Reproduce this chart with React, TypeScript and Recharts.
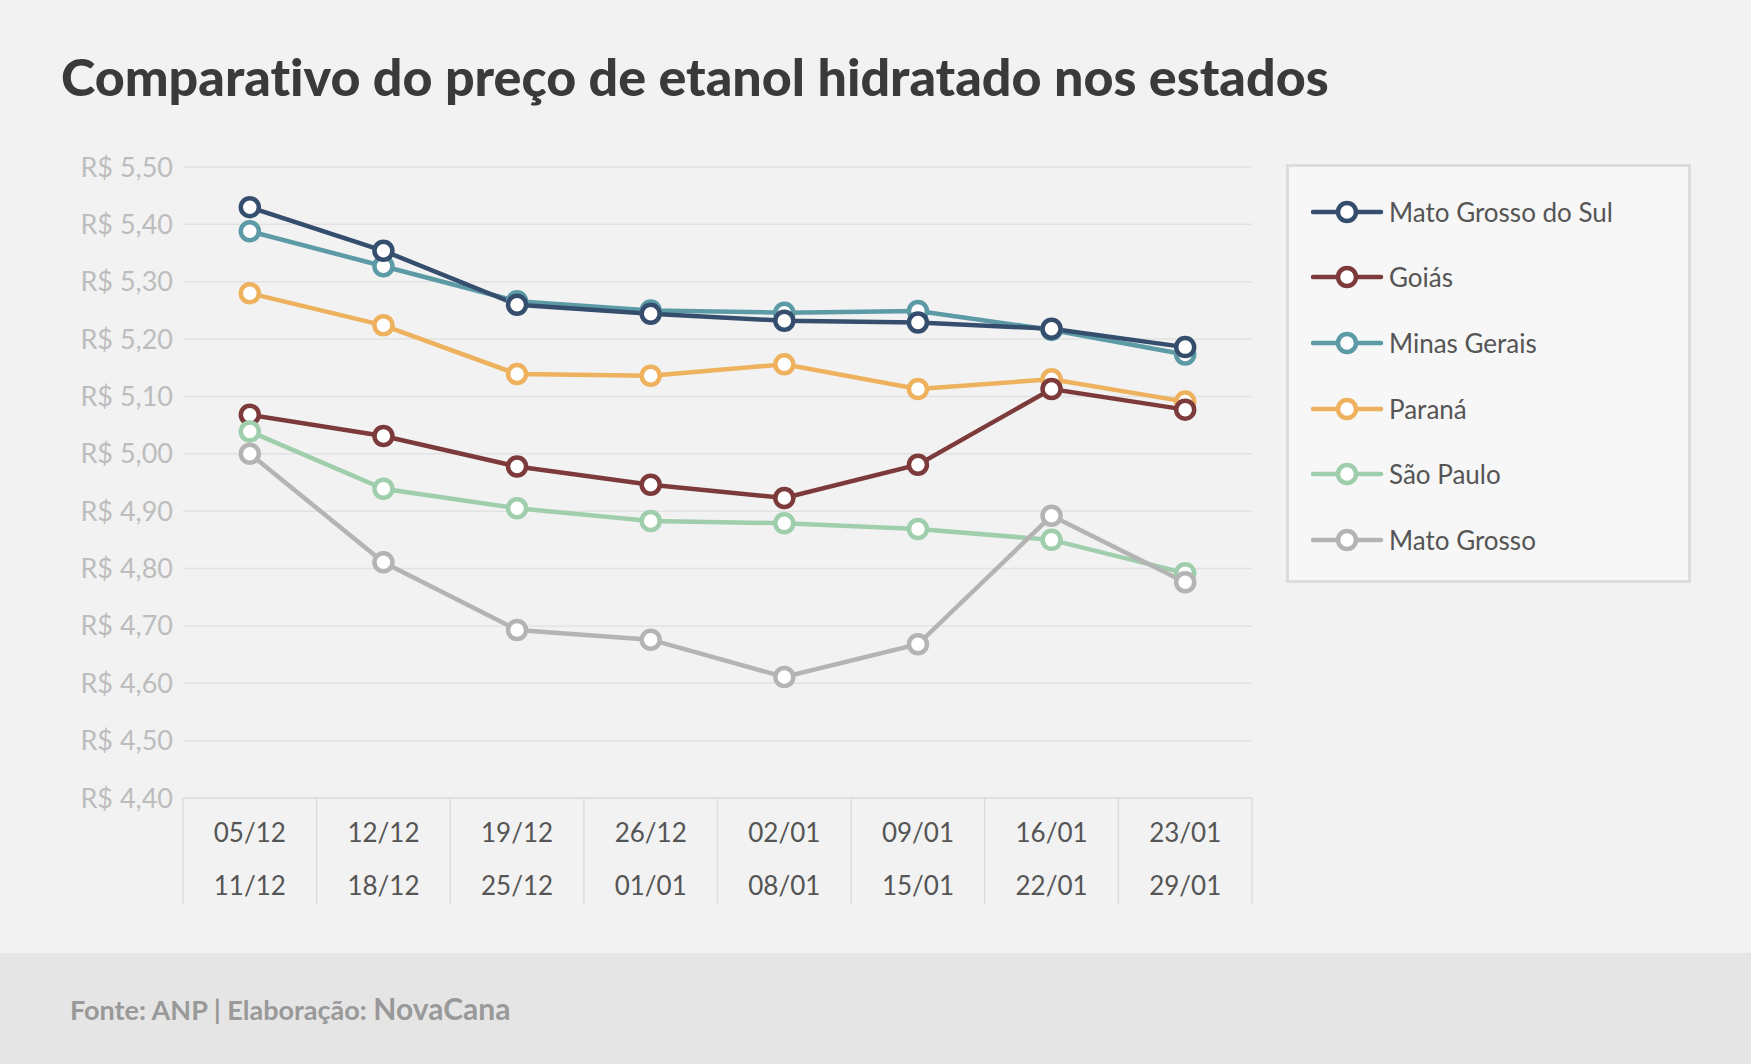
import { CartesianGrid, Legend, Line, LineChart, XAxis, YAxis } from "recharts";

// semanas (duas linhas por rótulo)
const weekStart = ["05/12", "12/12", "19/12", "26/12", "02/01", "09/01", "16/01", "23/01"];
const weekEnd = ["11/12", "18/12", "25/12", "01/01", "08/01", "15/01", "22/01", "29/01"];

const matoGrossoDoSul = [5.43, 5.354, 5.26, 5.244, 5.232, 5.229, 5.218, 5.186];
const goias = [5.068, 5.031, 4.978, 4.946, 4.923, 4.981, 5.113, 5.077];
const minasGerais = [5.388, 5.327, 5.266, 5.25, 5.246, 5.249, 5.216, 5.173];
const parana = [5.28, 5.224, 5.139, 5.136, 5.156, 5.113, 5.13, 5.091];
const saoPaulo = [5.039, 4.939, 4.905, 4.883, 4.879, 4.869, 4.85, 4.792];
const matoGrosso = [5.0, 4.811, 4.693, 4.676, 4.611, 4.668, 4.892, 4.776];

const yTicks = [4.4, 4.5, 4.6, 4.7, 4.8, 4.9, 5.0, 5.1, 5.2, 5.3, 5.4, 5.5];

const series = [
    { key: "Mato Grosso do Sul", values: matoGrossoDoSul, color: "#354e6d" },
    { key: "Goiás", values: goias, color: "#7d3a3a" },
    { key: "Minas Gerais", values: minasGerais, color: "#5c9aa6" },
    { key: "Paraná", values: parana, color: "#eeb15d" },
    { key: "São Paulo", values: saoPaulo, color: "#9fceac" },
    { key: "Mato Grosso", values: matoGrosso, color: "#b4b4b4" },
];

// ordem de desenho (quem fica por cima por último)
const drawOrder = ["Minas Gerais", "Mato Grosso do Sul", "Paraná", "Goiás", "São Paulo", "Mato Grosso"];

const data = weekStart.map((w, i) => {
    const row: Record<string, string | number> = { week: w, end: weekEnd[i] };
    series.forEach((s) => (row[s.key] = s.values[i]));
    return row;
});

const W = 1751;
const H = 953;
const M = { top: 167, right: 499, left: 0, bottom: 45 };
const Y_AXIS_W = 183;
const X_AXIS_H = 110;
const BAND = (W - M.left - M.right - Y_AXIS_W) / weekStart.length;
const FONT = "Lato, 'Open Sans', sans-serif";

const fmt = (v: number) => "R$ " + v.toFixed(2).replace(".", ",");

function WeekTick(props: any) {
    const { x, y, payload, index } = props;
    const left = x - BAND / 2;
    const right = x + BAND / 2;
    return (
        <g>
            <line x1={left} x2={left} y1={y} y2={y + 106} stroke="#dcdcdc" strokeWidth={1.5} />
            {index === weekStart.length - 1 && (
                <line x1={right} x2={right} y1={y} y2={y + 106} stroke="#dcdcdc" strokeWidth={1.5} />
            )}
            <text x={x} y={y + 35} dy="0.36em" textAnchor="middle" fill="#555" fontSize={26} fontFamily={FONT}>
                {payload.value}
            </text>
            <text x={x} y={y + 88} dy="0.36em" textAnchor="middle" fill="#555" fontSize={26} fontFamily={FONT}>
                {weekEnd[index]}
            </text>
        </g>
    );
}

function LegendBox() {
    return (
        <div
            style={{
                boxSizing: "border-box",
                width: 405,
                height: 419,
                border: "3px solid #dcdcdc",
                background: "#f7f7f7",
                paddingTop: 12,
                fontFamily: FONT,
            }}
        >
            {series.map((s) => (
                <div key={s.key} style={{ display: "flex", alignItems: "center", height: 65.6 }}>
                    <svg width={100} height={30} style={{ marginLeft: 22 }}>
                        <line x1={2} x2={70} y1={15} y2={15} stroke={s.color} strokeWidth={4.5} strokeLinecap="round" />
                        <circle cx={36} cy={15} r={9} fill="#fff" stroke={s.color} strokeWidth={4.5} />
                    </svg>
                    <span style={{ marginLeft: -22, fontSize: 26, color: "#555" }}>{s.key}</span>
                </div>
            ))}
        </div>
    );
}

export default function App() {
    return (
        <div
            style={{
                position: "absolute",
                left: 0,
                top: 0,
                width: W,
                height: 1064,
                background: "#f2f2f2",
                fontFamily: FONT,
                overflow: "hidden",
            }}
        >
            <div
                style={{
                    position: "absolute",
                    left: 61,
                    top: 40,
                    fontSize: 52,
                    fontWeight: 900,
                    color: "#3a3a3a",
                    lineHeight: "72px",
                    whiteSpace: "nowrap",
                    fontVariantLigatures: "none",
                }}
            >
                Comparativo do preço de etanol hidratado nos estados
            </div>

            <div style={{ position: "absolute", left: 0, top: 0 }}>
                <LineChart width={W} height={H} data={data} margin={M}>
                    <CartesianGrid vertical={false} stroke="#e2e2e2" strokeWidth={1.5} />
                    <XAxis
                        dataKey="week"
                        scale="band"
                        interval={0}
                        height={X_AXIS_H}
                        tickLine={false}
                        tickSize={0}
                        tickMargin={0}
                        axisLine={{ stroke: "#dcdcdc", strokeWidth: 1.5 }}
                        tick={<WeekTick />}
                    />
                    <YAxis
                        domain={[4.4, 5.5]}
                        ticks={yTicks}
                        width={Y_AXIS_W}
                        axisLine={false}
                        tickLine={false}
                        tickSize={0}
                        tickMargin={10}
                        tickFormatter={fmt}
                        tick={{ fill: "#bdbdbd", fontSize: 27, fontFamily: FONT }}
                    />
                    <Legend
                        layout="vertical"
                        align="center"
                        verticalAlign="middle"
                        content={<LegendBox />}
                        wrapperStyle={{ left: 1286, top: 164, width: 405, height: 419 }}
                    />
                    {drawOrder.map((k) => {
                        const s = series.find((x) => x.key === k)!;
                        return (
                            <Line
                                key={k}
                                dataKey={k}
                                stroke={s.color}
                                strokeWidth={4.5}
                                type="linear"
                                dot={{ r: 9, fill: "#fff", stroke: s.color, strokeWidth: 4.5 }}
                                activeDot={false}
                                isAnimationActive={false}
                            />
                        );
                    })}
                </LineChart>
            </div>

            <div
                style={{
                    position: "absolute",
                    left: 0,
                    top: 953,
                    width: W,
                    height: 111,
                    background: "#e5e5e5",
                }}
            >
                <div
                    style={{
                        position: "absolute",
                        left: 70,
                        top: 35,
                        color: "#999",
                        whiteSpace: "nowrap",
                        lineHeight: "40px",
                    }}
                >
                    <span style={{ fontSize: 27, fontWeight: 700 }}>Fonte: ANP | Elaboração: </span>
                    <span style={{ fontSize: 30, fontWeight: 700 }}>NovaCana</span>
                </div>
            </div>
        </div>
    );
}
